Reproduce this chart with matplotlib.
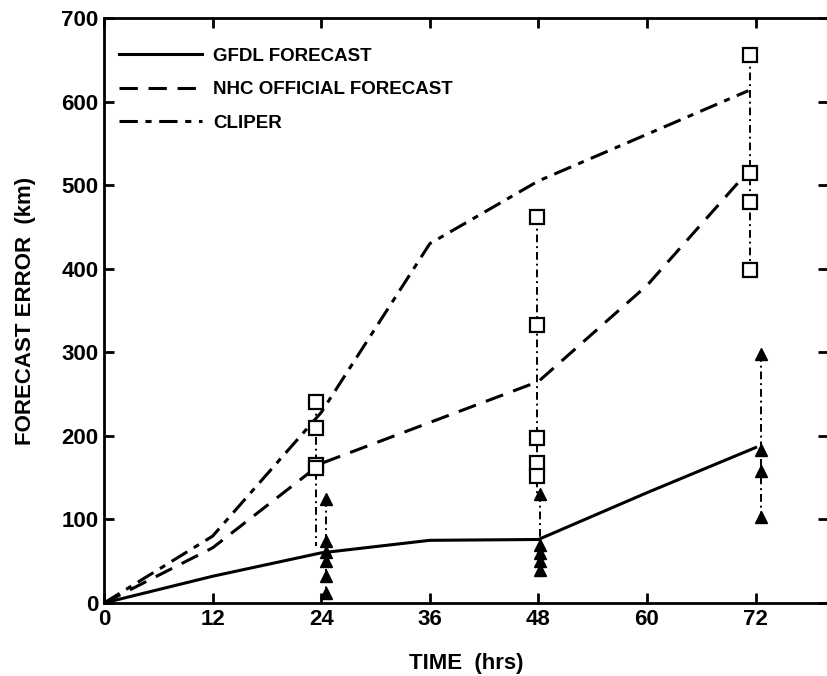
import matplotlib
matplotlib.use("Agg")
import matplotlib.pyplot as plt

# ---- data ----
hours = [0, 12, 24, 36, 48, 60, 72]
gfdl = [0, 32, 60, 75, 76, 132, 186]
nhc_x = [0, 12, 24, 36, 48, 60, 71.3]
nhc = [0, 66, 167, 216, 265, 380, 518]
cliper_x = [0, 12, 24, 36, 48, 71.2]
cliper = [0, 80, 228, 430, 505, 613]

# individual-case errors (squares and triangles)
sq_x = [23.4, 47.8, 71.4]
sq_vals = [[240, 210, 165, 162], [462, 333, 198, 167, 152], [656, 515, 480, 398]]
sq_low = [68, 130, 398]          # lower end of the connecting dash-dot line
tri_x = [24.5, 48.2, 72.6]
tri_vals = [[125, 74, 61, 50, 32, 12], [131, 70, 60, 50, 40], [298, 183, 158, 103]]

xticks = [0, 12, 24, 36, 48, 60, 72]
yticks = [0, 100, 200, 300, 400, 500, 600, 700]

plt.rcParams['font.family'] = ['Liberation Sans', 'DejaVu Sans']
fig = plt.figure(figsize=(8.28, 6.76), dpi=100)
ax = fig.add_axes([104/828, 1-603/676, 1-104/828, (603-18)/676])

ax.plot(hours, gfdl, color='black', lw=2.2, label='GFDL FORECAST')
ax.plot(nhc_x, nhc, color='black', lw=2.2, linestyle=(0, (6, 3.5)), label='NHC OFFICIAL FORECAST')
ax.plot(cliper_x, cliper, color='black', lw=2.2, linestyle=(0, (6, 2.5, 2, 2.5)), label='CLIPER')

for x, vals, low in zip(sq_x, sq_vals, sq_low):
    ax.plot([x, x], [max(vals), low], color='black', lw=1.4, linestyle=(0, (4, 2, 1, 2)))
    ax.plot([x]*len(vals), vals, linestyle='none', marker='s', markersize=10,
            markerfacecolor='white', markeredgecolor='black', markeredgewidth=1.6)
for x, vals in zip(tri_x, tri_vals):
    ax.plot([x, x], [max(vals), min(vals)], color='black', lw=1.4, linestyle=(0, (4, 2, 1, 2)))
    ax.plot([x]*len(vals), vals, linestyle='none', marker='^', markersize=9,
            color='black')

ax.set_xlim(0, 80)
ax.set_ylim(0, 700)
ax.set_xticks(xticks)
ax.set_yticks(yticks)
ax.tick_params(direction='in', length=7, width=2, top=True, right=True,
               labelsize=16, pad=4)
for lab in ax.get_xticklabels() + ax.get_yticklabels():
    lab.set_fontweight('bold')
for s in ax.spines.values():
    s.set_linewidth(2)

ax.set_xlabel('TIME  (hrs)', fontsize=16, fontweight='bold', labelpad=17)
ax.set_ylabel('FORECAST ERROR  (km)', fontsize=16, fontweight='bold', labelpad=18)

leg = ax.legend(loc='upper left', bbox_to_anchor=(0.0, 0.975), frameon=False,
                handlelength=4.4, fontsize=13.5, labelspacing=0.88, handletextpad=0.6,
                borderaxespad=0.4)
for t in leg.get_texts():
    t.set_fontweight('bold')

fig.savefig('out.png', dpi=100)
